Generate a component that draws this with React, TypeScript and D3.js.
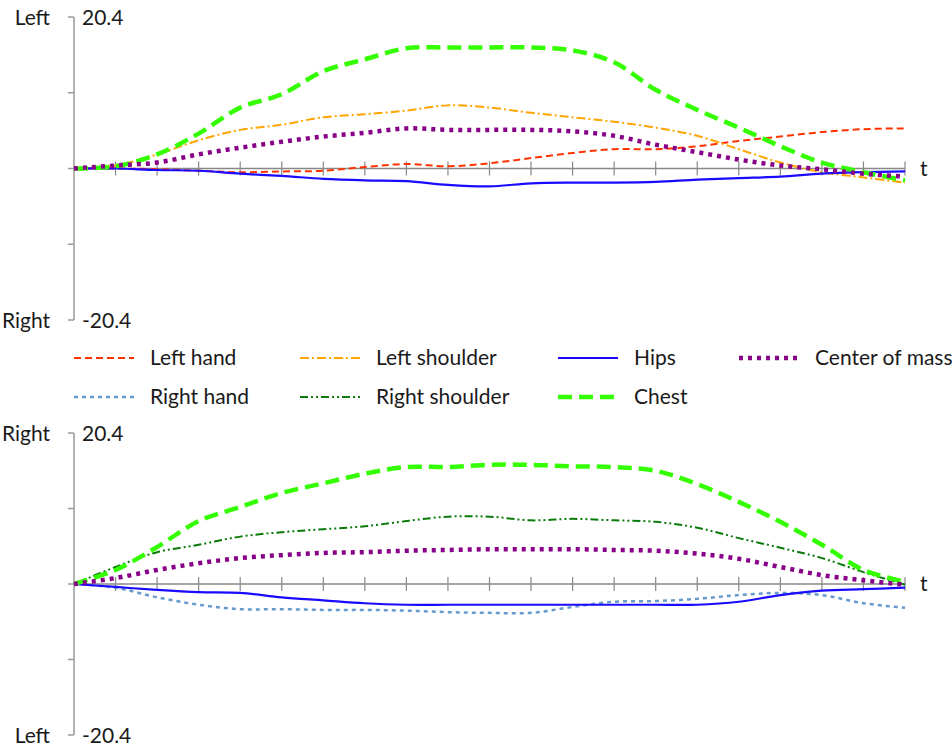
import React, { useRef, useEffect } from "react";
import * as d3 from "d3";

// time steps along the x axis
const t = [0, 1, 2, 3, 4, 5, 6, 7, 8, 9, 10, 11, 12, 13, 14, 15, 16, 17, 18, 19, 20];
const yTicks = [-20.4, -10.2, 0, 10.2, 20.4];

// upper panel (left side)
const leftHand = [0, 0, -0.1, -0.3, -0.5, -0.4, -0.3, 0.2, 0.6, 0.3, 0.7, 1.4, 2.1, 2.6, 2.6, 3.0, 3.7, 4.3, 4.9, 5.3, 5.4];
const leftShoulder = [0, 0.4, 1.9, 3.8, 5.2, 5.9, 6.9, 7.3, 7.8, 8.5, 8.2, 7.5, 6.9, 6.3, 5.5, 4.4, 2.6, 0.8, -0.5, -1.2, -1.9];
const hipsTop = [0, 0, -0.2, -0.3, -0.7, -1.0, -1.4, -1.6, -1.7, -2.2, -2.4, -2.0, -1.9, -1.9, -1.8, -1.5, -1.3, -1.1, -0.7, -0.5, -0.4];
const comTop = [0, 0.4, 0.8, 1.9, 2.8, 3.6, 4.3, 4.8, 5.4, 5.2, 5.2, 5.2, 5.0, 4.4, 3.2, 2.2, 1.2, 0.4, -0.1, -0.7, -1.1];
const chestTop = [0, 0.3, 1.9, 4.7, 8.2, 10.0, 13.1, 14.7, 16.2, 16.3, 16.3, 16.3, 15.9, 14.3, 10.6, 7.9, 5.5, 3.0, 0.8, -0.5, -1.6];

// lower panel (right side)
const rightHand = [0, -0.5, -1.8, -2.8, -3.4, -3.4, -3.5, -3.5, -3.6, -3.8, -3.9, -3.9, -3.1, -2.4, -2.3, -2.0, -1.5, -1.2, -1.5, -2.6, -3.2];
const rightShoulder = [0, 2.3, 4.3, 5.3, 6.4, 7.0, 7.4, 7.8, 8.5, 9.1, 9.1, 8.6, 8.8, 8.6, 8.4, 7.6, 6.2, 4.9, 3.5, 1.6, -0.1];
const hipsBottom = [0, -0.4, -0.8, -1.1, -1.2, -1.8, -2.2, -2.6, -2.8, -2.8, -2.8, -2.8, -2.8, -2.8, -2.8, -2.8, -2.4, -1.5, -0.9, -0.7, -0.5];
const comBottom = [0, 0.8, 1.9, 2.8, 3.5, 3.9, 4.2, 4.3, 4.5, 4.6, 4.7, 4.7, 4.7, 4.6, 4.5, 4.1, 3.4, 2.3, 1.2, 0.5, -0.1];
const chestBottom = [0, 1.9, 5.0, 8.5, 10.4, 12.3, 13.6, 14.9, 15.8, 15.8, 16.1, 16.1, 15.9, 15.8, 15.3, 13.5, 11.1, 8.4, 5.3, 1.9, 0.3];

const lineStyle = {
  "Left hand": { color: "#ff3300", width: 2, dash: "7 4" },
  "Right hand": { color: "#6699cc", width: 2.5, dash: "4 4" },
  "Left shoulder": { color: "#ffa500", width: 2, dash: "9 3 2 3" },
  "Right shoulder": { color: "#0a7a0a", width: 2, dash: "8 3 2 3 2 3" },
  Hips: { color: "#1a0aff", width: 2.2, dash: null },
  Chest: { color: "#33ff00", width: 4.5, dash: "14 7" },
  "Center of mass": { color: "#880088", width: 4.5, dash: "4 5" },
};

const topSeries = [
  { name: "Left hand", values: leftHand },
  { name: "Left shoulder", values: leftShoulder },
  { name: "Hips", values: hipsTop },
  { name: "Chest", values: chestTop },
  { name: "Center of mass", values: comTop },
];

const bottomSeries = [
  { name: "Right hand", values: rightHand },
  { name: "Right shoulder", values: rightShoulder },
  { name: "Hips", values: hipsBottom },
  { name: "Chest", values: chestBottom },
  { name: "Center of mass", values: comBottom },
];

const legendItems = [
  ["Left hand", "Left shoulder", "Hips", "Center of mass"],
  ["Right hand", "Right shoulder", "Chest"],
];

const FONT = "Lato, 'Open Sans', sans-serif";

const Chart = () => {
  const ref = useRef(null);

  useEffect(() => {
    const svg = d3.select(ref.current);
    svg.selectAll("*").remove();

    const x = d3.scaleLinear().domain([0, 20]).range([74, 905]);

    const drawPanel = (series, top, bottom, topLabel, bottomLabel) => {
      const y = d3.scaleLinear().domain([-20.4, 20.4]).range([bottom, top]);
      const g = svg.append("g");
      const axisColor = "#9a9a9a";

      // y axis
      g.append("line")
        .attr("x1", x(0)).attr("x2", x(0))
        .attr("y1", y(20.4)).attr("y2", y(-20.4))
        .attr("stroke", axisColor).attr("stroke-width", 1.5);
      g.selectAll(".ytick")
        .data(yTicks)
        .enter()
        .append("line")
        .attr("x1", x(0) - 6).attr("x2", x(0))
        .attr("y1", (d) => y(d)).attr("y2", (d) => y(d))
        .attr("stroke", axisColor).attr("stroke-width", 1.5);

      // x axis at zero
      g.append("line")
        .attr("x1", x(0)).attr("x2", x(20))
        .attr("y1", y(0)).attr("y2", y(0))
        .attr("stroke", "#888").attr("stroke-width", 1.5);
      g.selectAll(".xtick")
        .data(t.slice(1))
        .enter()
        .append("line")
        .attr("x1", (d) => x(d)).attr("x2", (d) => x(d))
        .attr("y1", y(0) - 7).attr("y2", y(0) + 7)
        .attr("stroke", "#888").attr("stroke-width", 1.2);

      const labels = [
        { v: 20.4, side: topLabel, num: "20.4" },
        { v: -20.4, side: bottomLabel, num: "-20.4" },
      ];
      labels.forEach((l) => {
        g.append("text")
          .attr("x", 50).attr("y", y(l.v) + 8)
          .attr("text-anchor", "end")
          .style("font-family", FONT).style("font-size", "21px")
          .attr("fill", "#1a1a1a")
          .text(l.side);
        g.append("text")
          .attr("x", 82).attr("y", y(l.v) + 8)
          .style("font-family", FONT).style("font-size", "21px")
          .attr("fill", "#1a1a1a")
          .text(l.num);
      });

      g.append("text")
        .attr("x", 920).attr("y", y(0) + 7)
        .style("font-family", FONT).style("font-size", "21px")
        .attr("fill", "#1a1a1a")
        .text("t");

      const line = d3
        .line()
        .x((d, i) => x(t[i]))
        .y((d) => y(d))
        .curve(d3.curveCatmullRom.alpha(0.5));

      series.forEach((s) => {
        const st = lineStyle[s.name];
        g.append("path")
          .attr("d", line(s.values))
          .attr("fill", "none")
          .attr("stroke", st.color)
          .attr("stroke-width", st.width)
          .attr("stroke-dasharray", st.dash);
      });
    };

    drawPanel(topSeries, 17, 320, "Left", "Right");
    drawPanel(bottomSeries, 433, 735, "Right", "Left");

    // legend
    const colX = [74, 300, 558, 739];
    const rowY = [358, 397];
    legendItems.forEach((row, r) => {
      row.forEach((name, c) => {
        const st = lineStyle[name];
        const lg = svg.append("g");
        lg.append("line")
          .attr("x1", colX[c]).attr("x2", colX[c] + 60)
          .attr("y1", rowY[r]).attr("y2", rowY[r])
          .attr("stroke", st.color)
          .attr("stroke-width", st.width)
          .attr("stroke-dasharray", st.dash);
        lg.append("text")
          .attr("x", colX[c] + 76).attr("y", rowY[r] + 7)
          .style("font-family", FONT).style("font-size", "21px")
          .attr("fill", "#1a1a1a")
          .text(name);
      });
    });
  }, []);

  return (
    <svg
      ref={ref}
      width={952}
      height={748}
      style={{ position: "absolute", left: 0, top: 0, background: "#fff" }}
    ></svg>
  );
};

export default function App() {
  return <Chart />;
}
